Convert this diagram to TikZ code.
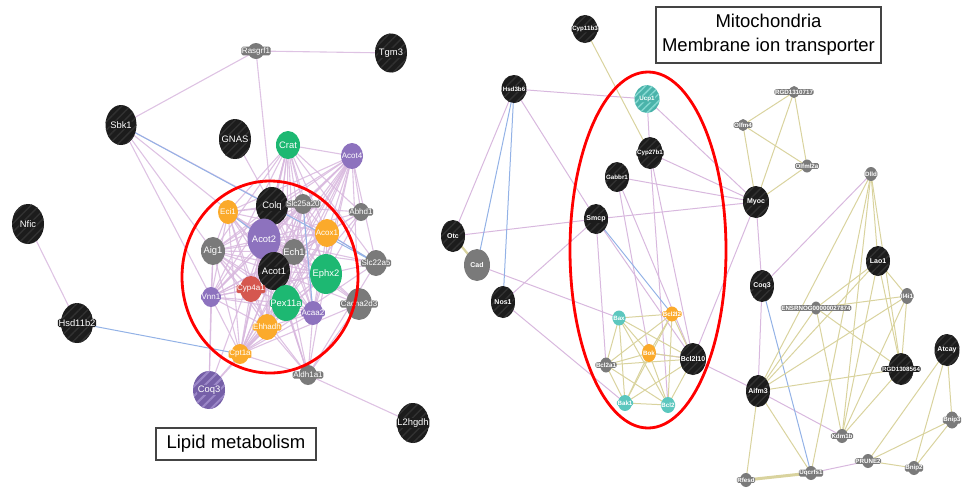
\documentclass[tikz,border=0pt]{standalone}
\usepackage{fontspec}
\setmainfont{Liberation Sans}
\usetikzlibrary{shapes.geometric,patterns.meta}
\definecolor{nblk}{HTML}{1C1C1C}
\definecolor{nstr}{HTML}{313131}
\definecolor{ngry}{HTML}{7A7A7A}
\definecolor{npur}{HTML}{8D72BE}
\definecolor{ndpur}{HTML}{7660A8}
\definecolor{nlpur}{HTML}{9C88C8}
\definecolor{ngrn}{HTML}{1DB872}
\definecolor{norg}{HTML}{FBAA2B}
\definecolor{nred}{HTML}{D5574F}
\definecolor{ntea}{HTML}{5CC7BE}
\definecolor{nteaD}{HTML}{4AB3AA}
\definecolor{nteaL}{HTML}{86D8D1}
\definecolor{epur}{HTML}{D8B8DE}
\definecolor{eblu}{HTML}{93B2E6}
\definecolor{eyel}{HTML}{D9D39E}
\definecolor{boxc}{HTML}{444444}
\pgfdeclarelayer{bg}
\pgfsetlayers{bg,main}
% #1 extra style, #2 fill colour, #3 name, #4 position, #5 width, #6 height, #7 font style, #8 text
\newcommand\gnode[8]{%
  \node[nd,fill=#2,#1,sz={#5}{#6}] (#3) at (#4) {};
  \node[lab,fill=#2,#7] at (#3) {#8};}
\begin{document}
\begin{tikzpicture}[x=1pt,y=-1pt,
  nd/.style={ellipse,inner sep=0pt},
  sz/.style 2 args={minimum width=#1,minimum height=#2},
  lab/.style={rectangle,rounded corners=1.5pt,inner sep=0.6pt,text=white},
  st/.style={postaction={pattern={Lines[angle=45,distance=6pt,line width=1.4pt]},pattern color=nstr}},
  lf/.style={font=\fontsize{9.4}{9.4}\selectfont},
  mf/.style={font=\fontsize{8}{8}\selectfont},
  rf/.style={font=\fontsize{7}{7}\selectfont\bfseries},
  sf/.style={font=\fontsize{6.2}{6.2}\selectfont\bfseries},
  pe/.style={draw=epur,line width=1pt},
  pl/.style={draw=epur,line width=1.1pt,opacity=0.85},
  be/.style={draw=eblu,line width=1pt},
  ye/.style={draw=eyel,line width=1pt},
  tbox/.style={draw=boxc,line width=1.1pt,inner sep=0pt,align=center,font=\fontsize{18.5}{24}\selectfont}
]
\useasboundingbox (0,0) rectangle (963,491);
\clip (0,0) rectangle (963,491);
% ---------------- left network ----------------
\gnode{}{ngry}{Rasgrf1}{256,51}{16}{16}{mf}{Rasgrf1}
\gnode{st}{nblk}{Tgm3}{391,53}{32}{39}{lf}{Tgm3}
\gnode{st}{nblk}{Sbk1}{121,125}{31}{40}{lf}{Sbk1}
\gnode{st}{nblk}{GNAS}{235,139}{32}{40}{lf}{GNAS}
\gnode{}{ngrn}{Crat}{288,145}{24}{28}{lf}{Crat}
\gnode{}{npur}{Acot4}{352,156}{22}{26}{mf}{Acot4}
\gnode{st}{nblk}{Nfic}{28,224}{32}{40}{lf}{Nfic}
\gnode{}{norg}{Eci1}{228,212}{20}{24}{mf}{Eci1}
\gnode{st}{nblk}{Colq}{272,206}{32}{38}{lf}{Colq}
\gnode{}{ngry}{Slc25a20}{303,204}{18}{20}{mf}{Slc25a20}
\gnode{}{ngry}{Abhd1}{361,212}{16}{18}{mf}{Abhd1}
\gnode{}{norg}{Acox1}{327,233}{24}{28}{mf}{Acox1}
\gnode{}{npur}{Acot2}{264,239}{33}{41}{lf}{Acot2}
\gnode{}{ngry}{Ech1}{294,252}{22}{26}{lf}{Ech1}
\gnode{}{ngry}{Aig1}{213,251}{24}{28}{lf}{Aig1}
\gnode{st}{nblk}{Acot1}{274,271}{32}{38}{lf}{Acot1}
\gnode{}{ngrn}{Ephx2}{326,274}{32}{40}{lf}{Ephx2}
\gnode{}{ngry}{Slc22a5}{376,263}{22}{26}{mf}{Slc22a5}
\gnode{}{nred}{Cyp4a1}{251,289}{22}{26}{mf}{Cyp4a1}
\gnode{}{npur}{Vnn1}{211,297}{18}{20}{mf}{Vnn1}
\gnode{}{ngrn}{Pex11a}{286,303}{29}{36}{lf}{Pex11a}
\gnode{}{npur}{Acaa2}{313,313}{20}{24}{mf}{Acaa2}
\gnode{}{ngry}{Cacna2d3}{359,304}{26}{32}{mf}{Cacna2d3}
\gnode{}{norg}{Ehhadh}{267,327}{22}{26}{mf}{Ehhadh}
\gnode{}{norg}{Cpt1a}{240,354}{18}{20}{mf}{Cpt1a}
\gnode{}{ngry}{Aldh1a1}{308,375}{18}{20}{mf}{Aldh1a1}
\gnode{postaction={pattern={Lines[angle=45,distance=7pt,line width=2pt]},pattern color=nlpur}}{ndpur}{CoqL}{209,390}{32}{38}{lf}{Coq3}
\gnode{st}{nblk}{Hsd11b2}{77,323}{32}{40}{lf}{Hsd11b2}
\gnode{st}{nblk}{L2hgdh}{413,423}{32}{40}{lf}{L2hgdh}
% ---------------- right network ----------------
\gnode{st}{nblk}{Cyp11b3}{585,29}{25}{28}{sf}{Cyp11b3}
\gnode{st}{nblk}{Hsd3b6}{514,89}{25}{28}{sf}{Hsd3b6}
\gnode{postaction={pattern={Lines[angle=45,distance=5pt,line width=1.5pt]},pattern color=nteaL}}{nteaD}{Ucp1}{647,99}{25}{28}{sf}{Ucp1}
\gnode{}{ngry}{RGD1310717}{794,92}{10}{12}{sf}{RGD1310717}
\gnode{}{ngry}{Olfm4}{743,125}{10}{12}{sf}{Olfm4}
\gnode{st}{nblk}{Cyp27b1}{650,153}{25}{32}{sf}{Cyp27b1}
\gnode{}{ngry}{Olfml2a}{807,166}{11}{13}{sf}{Olfml2a}
\gnode{}{ngry}{Dlld}{871,174}{12}{14}{sf}{Dlld}
\gnode{st}{nblk}{Gabbr1}{617,177}{24}{30}{sf}{Gabbr1}
\gnode{st}{nblk}{Myoc}{756,202}{26}{32}{rf}{Myoc}
\gnode{st}{nblk}{Smcp}{596,219}{24}{30}{rf}{Smcp}
\gnode{st}{nblk}{Otc}{453,236}{24}{32}{rf}{Otc}
\gnode{}{ngry}{Cad}{477,265}{26}{32}{rf}{Cad}
\gnode{st}{nblk}{Nos1}{503,302}{24}{32}{rf}{Nos1}
\gnode{st}{nblk}{Lao1}{878,261}{24}{30}{rf}{Lao1}
\gnode{st}{nblk}{CoqR}{762,286}{24}{32}{rf}{Coq3}
\gnode{}{ngry}{Il4i1}{907,296}{12}{16}{sf}{Il4i1}
\gnode{}{ngry}{ENS}{816,308}{10}{13}{sf}{ENSRNOG00000027874}
\gnode{}{ntea}{Bax}{619,318}{13}{15}{sf}{Bax}
\gnode{}{norg}{Bcl2l2}{672,314}{13}{15}{sf}{Bcl2l2}
\gnode{}{norg}{Bok}{649,353}{14}{18}{sf}{Bok}
\gnode{st}{nblk}{Bcl2l10}{693,359}{26}{32}{rf}{Bcl2l10}
\gnode{}{ngry}{Bcl2a1}{606,365}{12}{15}{sf}{Bcl2a1}
\gnode{st}{nblk}{RGD1308564}{901,369}{25}{32}{sf}{RGD1308564}
\gnode{st}{nblk}{Atcay}{947,350}{25}{32}{rf}{Atcay}
\gnode{st}{nblk}{Aifm3}{758,391}{24}{32}{rf}{Aifm3}
\gnode{}{ntea}{Bak1}{625,403}{14}{16}{sf}{Bak1}
\gnode{}{ntea}{Bcl2}{668,405}{14}{16}{sf}{Bcl2}
\gnode{}{ngry}{Bnip3}{952,420}{13}{17}{sf}{Bnip3}
\gnode{}{ngry}{Kdm1b}{842,436}{12}{14}{sf}{Kdm1b}
\gnode{}{ngry}{PRUNE2}{868,461}{12}{14}{sf}{PRUNE2}
\gnode{}{ngry}{Bnip2}{914,468}{12}{14}{sf}{Bnip2}
\gnode{}{ngry}{Rfesd}{746,480}{12}{14}{sf}{Rfesd}
\gnode{}{ngry}{Uqcrfs1}{811,473}{12}{14}{sf}{Uqcrfs1}
% ---------------- edges ----------------
\begin{pgfonlayer}{bg}
\def\core{Eci1,Colq,Slc25a20,Acox1,Acot2,Ech1,Aig1,Acot1,Ephx2,Cyp4a1,Vnn1,Pex11a,Acaa2,Ehhadh,Cpt1a,Crat,Acot4}
\foreach \a [count=\i] in \core {
  \foreach \b [count=\j] in \core {
    \ifnum\j>\i \draw[pl] (\a.center) -- (\b.center); \fi
  }
}
\foreach \a/\b in {Rasgrf1/Tgm3,Rasgrf1/Sbk1,Rasgrf1/Colq,Sbk1/Colq,Sbk1/Acot2,Sbk1/Vnn1,Sbk1/Aig1,GNAS/Colq,
  Abhd1/Acot4,Abhd1/Crat,Abhd1/Acot2,Abhd1/Colq,Abhd1/Acox1,Abhd1/Ech1,Abhd1/Ephx2,Abhd1/Cpt1a,
  Slc22a5/Acot4,Slc22a5/Acox1,Slc22a5/Ephx2,Slc22a5/Crat,Slc22a5/Acot2,Slc22a5/Aldh1a1,Slc22a5/Cpt1a,Slc22a5/Ech1,
  Cacna2d3/Acot4,Cacna2d3/Acot2,Cacna2d3/Ech1,Cacna2d3/Aldh1a1,Cacna2d3/Cpt1a,Cacna2d3/Acot1,Cacna2d3/Ephx2,
  Aldh1a1/Pex11a,Aldh1a1/Acaa2,Aldh1a1/Ehhadh,Aldh1a1/Cpt1a,Aldh1a1/Acot1,Aldh1a1/Aig1,Aldh1a1/Colq,Aldh1a1/Ephx2,Aldh1a1/Acot2,
  CoqL/Cpt1a,CoqL/Aig1,CoqL/Vnn1,CoqL/Ehhadh,CoqL/Acot2,
  Nfic/Hsd11b2,Aldh1a1/L2hgdh}
  \draw[pl] (\a.center) -- (\b.center);
\foreach \a/\b in {Sbk1/Slc22a5,Hsd11b2/Cpt1a,Slc25a20/Acaa2,Eci1/Acot2,Acox1/Slc22a5}
  \draw[be] (\a.center) -- (\b.center);
% right
\foreach \a/\b in {Hsd3b6/Ucp1,Hsd3b6/Otc,Hsd3b6/Smcp,Ucp1/Cyp27b1,Ucp1/Myoc,Cyp27b1/Myoc,Cyp27b1/Bcl2l10,Cyp27b1/Bcl2,
  Gabbr1/Myoc,Gabbr1/Bok,Gabbr1/Bcl2l10,Smcp/Myoc,Smcp/Otc,Smcp/Bcl2a1,Smcp/Bcl2l10,Cad/Bax,Nos1/Smcp,Nos1/Bak1,
  Myoc/CoqR,Myoc/Bcl2l10,Dlld/CoqR,CoqR/Aifm3,Bcl2l10/Aifm3,Aifm3/Kdm1b,Uqcrfs1/PRUNE2,Bok/Bcl2l10}
  \draw[pe] (\a.center) -- (\b.center);
\foreach \a/\b in {Hsd3b6/Cad,Hsd3b6/Nos1,Smcp/Bcl2l2,CoqR/Uqcrfs1}
  \draw[be] (\a.center) -- (\b.center);
\foreach \a/\b in {Cyp11b3/Cyp27b1,Olfm4/RGD1310717,Olfm4/Olfml2a,RGD1310717/Olfml2a,Myoc/Olfm4,Myoc/RGD1310717,Myoc/Olfml2a,
  Dlld/Lao1,Dlld/Aifm3,Dlld/Kdm1b,Dlld/Uqcrfs1,Dlld/RGD1308564,
  Lao1/ENS,Lao1/Il4i1,Lao1/RGD1308564,Lao1/Aifm3,Lao1/Kdm1b,Il4i1/ENS,Il4i1/RGD1308564,Il4i1/Aifm3,Il4i1/Kdm1b,
  ENS/Aifm3,ENS/Kdm1b,ENS/RGD1308564,RGD1308564/Aifm3,RGD1308564/Kdm1b,Aifm3/Rfesd,Aifm3/Uqcrfs1,
  PRUNE2/Bnip2,PRUNE2/Atcay,PRUNE2/Bnip3,Bnip2/Atcay,Bnip2/Bnip3,Atcay/Bnip3}
  \draw[ye] (\a.center) -- (\b.center);
\def\bcl{Bax,Bcl2l2,Bok,Bcl2l10,Bcl2a1,Bak1,Bcl2}
\foreach \a [count=\i] in \bcl {
  \foreach \b [count=\j] in \bcl {
    \ifnum\j>\i \draw[ye] (\a.center) -- (\b.center); \fi
  }
}
\draw[ye,line width=2.2pt] (Otc.center) -- (Cad.center);
\draw[ye,line width=3pt] (Rfesd.center) -- (Uqcrfs1.center);
\end{pgfonlayer}
% ---------------- highlights and titles ----------------
\draw[red,line width=2.8pt] (270,277) ellipse [x radius=88, y radius=96];
\draw[red,line width=2.8pt] (648,250) ellipse [x radius=78, y radius=178];
\node[tbox,minimum width=160,minimum height=32] (lipid) at (236,444) {Lipid metabolism};
\node[tbox,minimum width=225,minimum height=56] (mito) at (768.5,35) {Mitochondria\\Membrane ion transporter};
\end{tikzpicture}
\end{document}
